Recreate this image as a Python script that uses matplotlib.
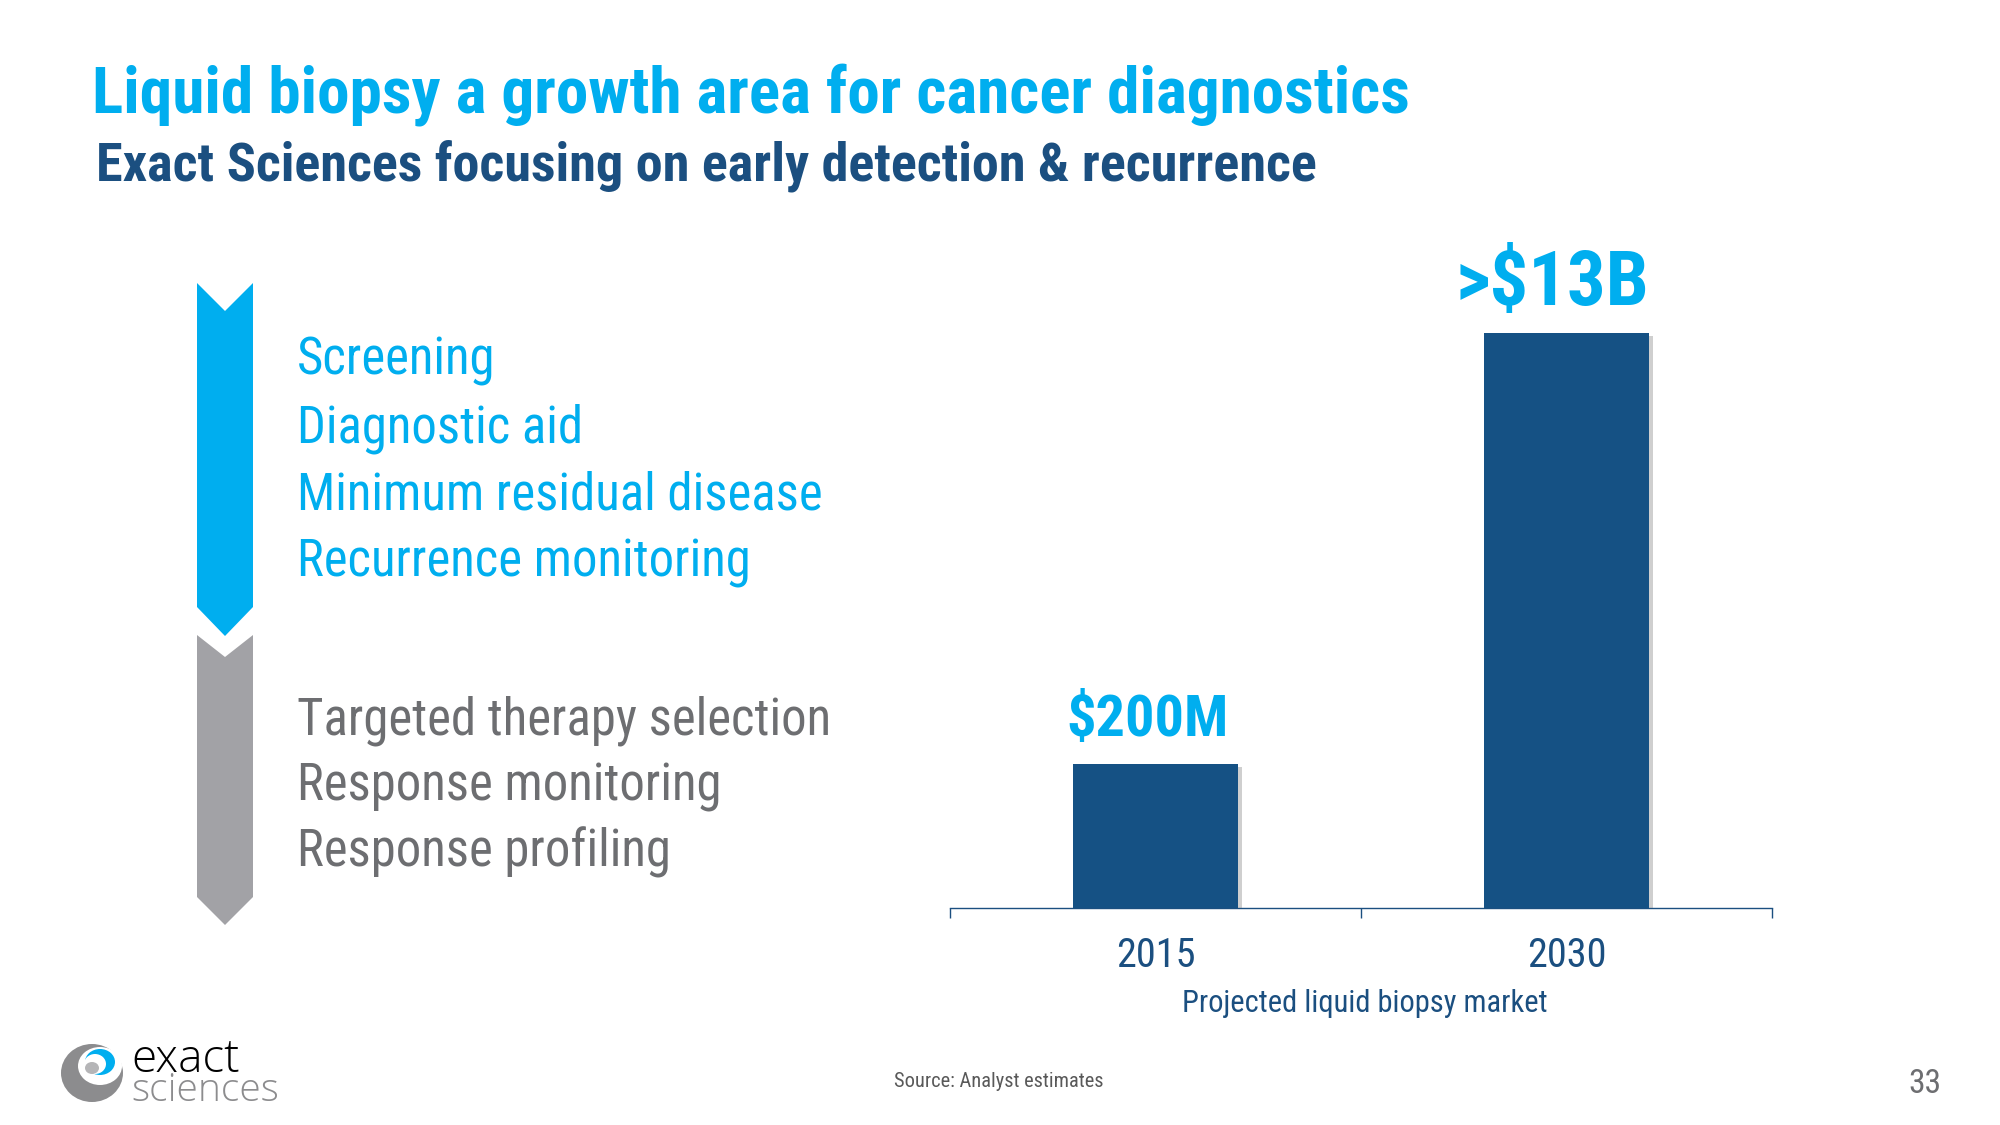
import matplotlib
matplotlib.use("Agg")
import matplotlib.pyplot as plt
from matplotlib.patches import Polygon, Ellipse
from matplotlib import patheffects

# chart data (bar heights are relative, as drawn on the slide)
years = ['2015', '2030']
bar_heights = [1.0, 4.0]
value_labels = ['$200M', '>$13B']
early_uses = ['Screening', 'Diagnostic aid', 'Minimum residual disease', 'Recurrence monitoring']
therapy_uses = ['Targeted therapy selection', 'Response monitoring', 'Response profiling']

CYAN = '#00aeef'
NAVY = '#1b4f80'
BAR = '#155184'
GRAY = '#a2a2a6'
TEXT_GRAY = '#6d6e71'
NARROW = ['Roboto Condensed', 'DejaVu Sans']

fig = plt.figure(figsize=(20, 11.25), dpi=100)

# overlay in pixel coordinates for the slide furniture
bg = fig.add_axes([0, 0, 1, 1])
bg.set_xlim(0, 2000)
bg.set_ylim(1125, 0)
bg.axis('off')

bg.text(92, 112, 'Liquid biopsy a growth area for cancer diagnostics', color=CYAN,
        fontsize=47, fontweight='bold', family=NARROW, va='baseline')
bg.text(96, 181, 'Exact Sciences focusing on early detection & recurrence', color=NAVY,
        fontsize=39, fontweight='bold', family=NARROW, va='baseline')

# chevron bands
bg.add_patch(Polygon([(197, 283), (225, 311), (253, 283), (253, 607), (225, 636), (197, 607)],
                     closed=True, color=CYAN, lw=0))
bg.add_patch(Polygon([(197, 635), (225, 657), (253, 635), (253, 897), (225, 925), (197, 897)],
                     closed=True, color=GRAY, lw=0))

for i, item in enumerate(early_uses):
    bg.text(297, 375 + i * 67, item, color=CYAN, fontsize=36.5, family=NARROW, va='baseline')
for i, item in enumerate(therapy_uses):
    bg.text(297, 735 + i * 66, item, color=TEXT_GRAY, fontsize=36.5, family=NARROW, va='baseline')

bg.text(1365, 1012, 'Projected liquid biopsy market', color=NAVY, fontsize=22,
        family=NARROW, ha='center', va='baseline')
bg.text(894, 1087, 'Source: Analyst estimates', color='#595959', fontsize=14.7,
        family=NARROW, va='baseline')
bg.text(1941, 1093, '33', color=TEXT_GRAY, fontsize=24, family=NARROW,
        ha='right', va='baseline')

# logo
bg.add_patch(Ellipse((92, 1073), 62, 58, color='#8c8c8e', lw=0))
bg.add_patch(Ellipse((100, 1066), 44, 38, color='white', lw=0))
bg.add_patch(Ellipse((100, 1062), 30, 26, color=CYAN, lw=0))
bg.add_patch(Ellipse((95, 1064), 22, 20, color='white', lw=0))
bg.add_patch(Ellipse((92, 1068), 14, 12, color='#b5b5b7', lw=0))
bg.text(131, 1072, 'exact', color='black', fontsize=33, family=['Open Sans', 'DejaVu Sans'],
        fontweight='light', va='baseline')
bg.text(131, 1101, 'sciences', color='#8c8c8e', fontsize=28, family=['Open Sans', 'DejaVu Sans'],
        fontweight='light', va='baseline')

# bar chart
ax = fig.add_axes([950 / 2000, 217 / 1125, 822 / 2000, 658 / 1125])
ax.patch.set_visible(False)
x = range(len(years))
bars = ax.bar(x, bar_heights, width=0.4, color=BAR, zorder=3)
for b in bars:
    b.set_path_effects([patheffects.withSimplePatchShadow(offset=(3, -2), shadow_rgbFace='#777777', alpha=0.35)])
ax.set_xlim(-0.5, 1.5)
ax.set_ylim(0, 4.0 * 658 / 575)

label_sizes = [42, 55]
label_shift = [-6, -10]
for i, (h, lab) in enumerate(zip(bar_heights, value_labels)):
    ax.annotate(lab, (i, h), xytext=(label_shift[i], 20), textcoords='offset points', ha='center',
                va='baseline', color=CYAN, fontsize=label_sizes[i],
                fontweight='bold', family=NARROW)

for s in ['left', 'top', 'right']:
    ax.spines[s].set_visible(False)
ax.spines['bottom'].set_color(NAVY)
ax.spines['bottom'].set_linewidth(1)
ax.set_yticks([])
ax.set_xticks([-0.5, 0.5, 1.5])
ax.set_xticklabels(['', '', ''])
ax.tick_params(axis='x', which='major', length=7, width=1, color=NAVY, direction='out')
ax.set_xticks(list(x), minor=True)
ax.set_xticklabels(years, minor=True, fontsize=29, color=NAVY, family=NARROW)
ax.tick_params(axis='x', which='minor', length=0, pad=20)

fig.savefig('out.png', dpi=100, facecolor='white')
